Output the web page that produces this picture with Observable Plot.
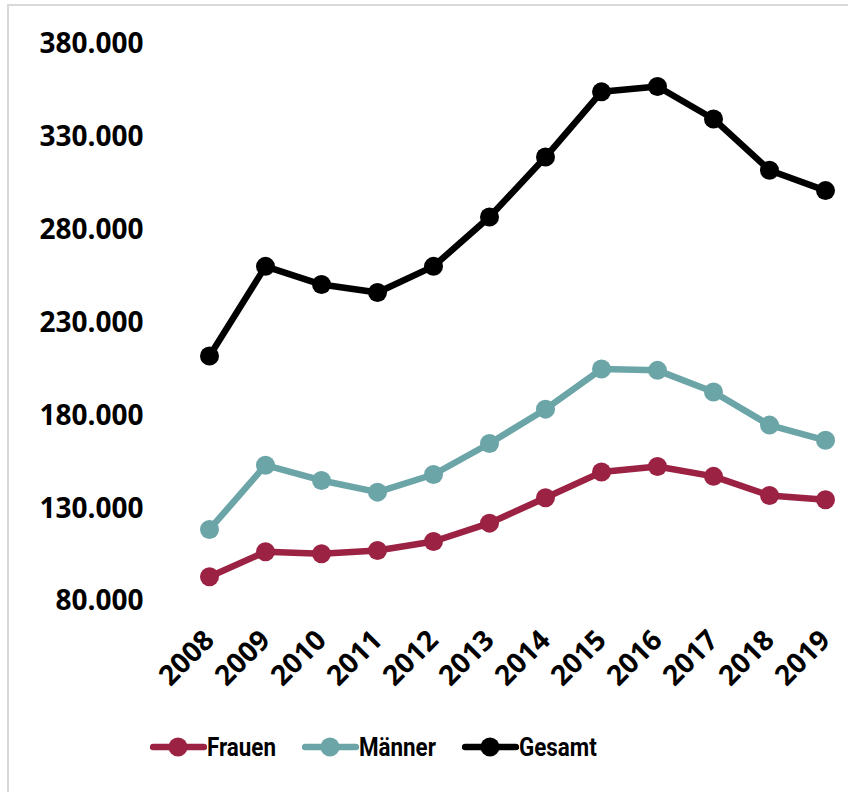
<!DOCTYPE html>
<html>
<head>
<meta charset="utf-8">
<script src="https://cdn.jsdelivr.net/npm/d3@7"></script>
<script src="https://cdn.jsdelivr.net/npm/@observablehq/plot@0.6"></script>
<style>
  html, body { margin: 0; padding: 0; background: #fff; }
  body { width: 848px; height: 792px; overflow: hidden; position: relative; font-family: "Open Sans", sans-serif; }
  #frame { position: absolute; left: 7px; top: 4px; width: 900px; height: 900px; border: 2px solid #d9d9d9; box-sizing: border-box; }
  #chart { position: absolute; left: 0; top: 0; }
  #legend { position: absolute; left: 0; top: 730px; width: 848px; height: 34px; }
  .item { position: absolute; top: 0; display: flex; align-items: center; font-family: Roboto, "Open Sans", sans-serif; font-weight: 700; font-size: 26px; color: #000; height: 34px; }
  .item svg { display: block; }
  .item span { display: inline-block; transform: scaleX(0.86); transform-origin: left center; }
</style>
</head>
<body>
<div id="frame"></div>
<div id="chart"></div>
<div id="legend"></div>
<script>
const years = ["2008","2009","2010","2011","2012","2013","2014","2015","2016","2017","2018","2019"];
const frauen = [93300,106800,105700,107500,112300,122200,135900,149700,152700,147400,137100,134800];
const maenner = [118800,153400,145200,138900,148400,165100,183600,205200,204500,192800,175000,166800];
const gesamt = [212200,260500,250700,246400,260500,287100,319400,354500,357400,339900,312300,301300];
const yTicks = [80000,130000,180000,230000,280000,330000,380000];
const seriesNames = ["Frauen","Männer","Gesamt"];
const seriesColors = ["#9b2243","#6ba5a7","#000000"];

const seriesValues = [frauen, maenner, gesamt];
const data = [];
seriesNames.forEach((s, i) => years.forEach((y, j) => data.push({series: s, year: y, value: seriesValues[i][j]})));

const fmt = d => d3.format(",")(d).replace(/,/g, ".");

const chart = Plot.plot({
  width: 848,
  height: 700,
  marginTop: 44,
  marginBottom: 99,
  marginLeft: 181,
  marginRight: 0,
  style: {fontFamily: "Open Sans, sans-serif", background: "transparent", overflow: "visible"},
  x: {type: "band", domain: years, range: [181, 853], padding: 0, label: null},
  y: {domain: [80000, 380000], ticks: yTicks, label: null},
  color: {domain: seriesNames, range: seriesColors},
  marks: [
    Plot.ruleY(yTicks, {stroke: "#d9d9d9", strokeWidth: 2, x1: 181, x2: 853}),
    Plot.axisY({ticks: yTicks, tickSize: 0, tickPadding: 38, tickFormat: fmt, fontSize: 28, fontWeight: 700, fill: "#000", label: null}),
    Plot.axisX({tickSize: 0, tickRotate: -45, tickPadding: 34, fontSize: 28, fontWeight: 700, fill: "#000", label: null}),
    Plot.line(data, {x: "year", y: "value", z: "series", stroke: "series", strokeWidth: 6.5, strokeLinejoin: "round", strokeLinecap: "round"}),
    Plot.dot(data, {x: "year", y: "value", fill: "series", r: 9.5, stroke: null})
  ]
});
chart.style.overflow = "visible";
document.getElementById("chart").appendChild(chart);

// legend
const legend = document.getElementById("legend");
const lefts = [150, 302, 462];
seriesNames.forEach((s, i) => {
  const div = document.createElement("div");
  div.className = "item";
  div.style.left = lefts[i] + "px";
  div.innerHTML = `<svg width="57" height="34"><line x1="3" y1="17" x2="54" y2="17" stroke="${seriesColors[i]}" stroke-width="6.5" stroke-linecap="round"/><circle cx="28" cy="17" r="9.5" fill="${seriesColors[i]}"/></svg><span>${s}</span>`;
  legend.appendChild(div);
});
</script>
</body>
</html>
